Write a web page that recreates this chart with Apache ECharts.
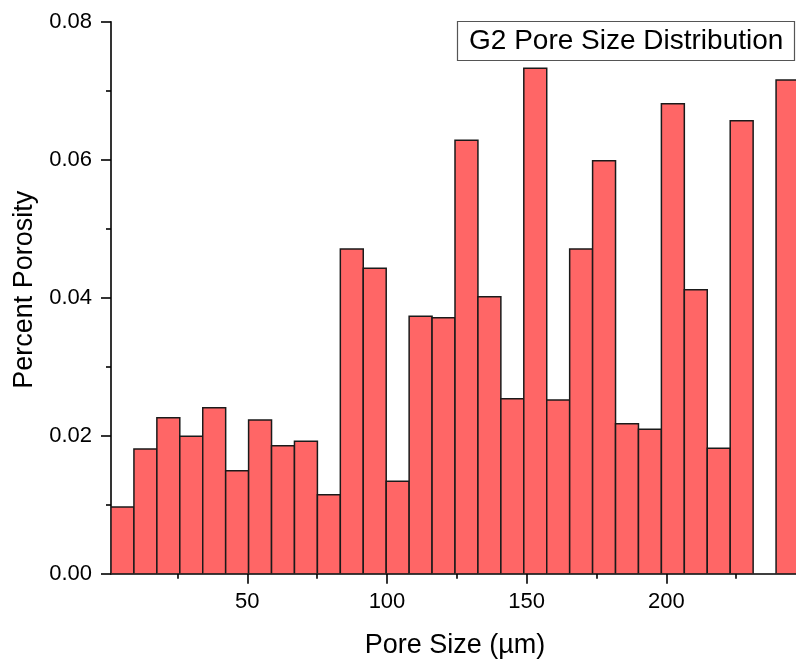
<!DOCTYPE html>
<html>
<head>
<meta charset="utf-8">
<title>G2 Pore Size Distribution</title>
<script src="https://cdn.jsdelivr.net/npm/echarts@6/dist/echarts.min.js"></script>
<style>
  html, body { margin: 0; padding: 0; background: #fff; }
  #chart { width: 796px; height: 663px; }
</style>
</head>
<body>
<div id="chart"></div>
<script>
// Histogram bins: equal-width bins starting at binStart (µm)
const binStart = 1.2;
const binWidth = 8.21;
// Percent porosity per bin
const porosity = [
  0.00967, 0.01807, 0.02261, 0.01991, 0.02406, 0.01493, 0.02228, 0.01855, 0.01919, 0.01145,
  0.04706, 0.04426, 0.01339, 0.03730, 0.03710, 0.06281, 0.04015, 0.02536, 0.07325, 0.02517,
  0.04706, 0.05986, 0.02174, 0.02092, 0.06812, 0.04116, 0.01817, 0.06565, 0.00000, 0.07155
];
const xMajorTicks = [50, 100, 150, 200];
const xMinorTicks = [25, 75, 125, 175, 225];
const yTicks = [0, 0.02, 0.04, 0.06, 0.08];

const FONT = '"Liberation Sans", Arial, sans-serif';

const histData = porosity.map((v, i) => [binStart + i * binWidth, binStart + (i + 1) * binWidth, v]);

const chart = echarts.init(document.getElementById('chart'), null, { renderer: 'canvas' });

chart.setOption({
  backgroundColor: '#ffffff',
  animation: false,
  title: {
    text: 'G2 Pore Size Distribution',
    left: 457,
    top: 21,
    padding: [4, 11, 4, 12],
    borderColor: '#555',
    borderWidth: 1.2,
    backgroundColor: '#fff',
    textStyle: { fontFamily: FONT, fontSize: 28, fontWeight: 'normal', color: '#000', lineHeight: 32 }
  },
  grid: { left: 111, right: -3, top: 21.7, bottom: 89.3, containLabel: false, outerBoundsMode: 'none' },
  xAxis: [
    {
      type: 'value',
      min: binStart,
      max: binStart + porosity.length * binWidth,
      name: 'Pore Size (µm)',
      nameLocation: 'middle',
      nameGap: 58,
      nameTextStyle: { fontFamily: FONT, fontSize: 27, color: '#000' },
      axisLine: { show: true, onZero: false, lineStyle: { color: '#000', width: 1.6 } },
      axisTick: { show: true, inside: false, length: 10, customValues: xMajorTicks, lineStyle: { color: '#000', width: 1.6 } },
      axisLabel: { customValues: xMajorTicks, margin: 17, fontFamily: FONT, fontSize: 22, color: '#000' },
      splitLine: { show: false }
    },
    {
      type: 'value',
      min: binStart,
      max: binStart + porosity.length * binWidth,
      position: 'bottom',
      axisLine: { show: false },
      axisTick: { show: true, inside: false, length: 5, customValues: xMinorTicks, lineStyle: { color: '#000', width: 1.6 } },
      axisLabel: { show: false },
      splitLine: { show: false }
    }
  ],
  yAxis: {
    type: 'value',
    min: 0,
    max: 0.08,
    interval: 0.02,
    name: 'Percent Porosity',
    nameLocation: 'middle',
    nameGap: 73,
    nameTextStyle: { fontFamily: FONT, fontSize: 27, color: '#000', padding: [0, 0, 0, 16] },
    axisLine: { show: true, lineStyle: { color: '#000', width: 1.6 } },
    axisTick: { show: true, inside: false, length: 10, lineStyle: { color: '#000', width: 1.6 } },
    minorTick: { show: true, splitNumber: 2, length: 5, lineStyle: { color: '#000', width: 1.6 } },
    axisLabel: {
      margin: 19, fontFamily: FONT, fontSize: 22, color: '#000',
      formatter: v => yTicks.some(t => Math.abs(t - v) < 1e-9) ? v.toFixed(2) : ''
    },
    splitLine: { show: false },
    minorSplitLine: { show: false }
  },
  series: [{
    name: 'G2 Pore Size Distribution',
    type: 'custom',
    clip: true,
    data: histData,
    encode: { x: [0, 1], y: 2 },
    renderItem: function (params, api) {
      const lo = api.value(0), hi = api.value(1), v = api.value(2);
      if (!(v > 0)) return null;
      const p0 = api.coord([lo, v]);
      const p1 = api.coord([hi, 0]);
      return {
        type: 'rect',
        shape: { x: p0[0], y: p0[1], width: p1[0] - p0[0], height: p1[1] - p0[1] },
        style: { fill: '#ff6666', stroke: '#1a1a1a', lineWidth: 1.5 }
      };
    }
  }]
});
</script>
</body>
</html>
